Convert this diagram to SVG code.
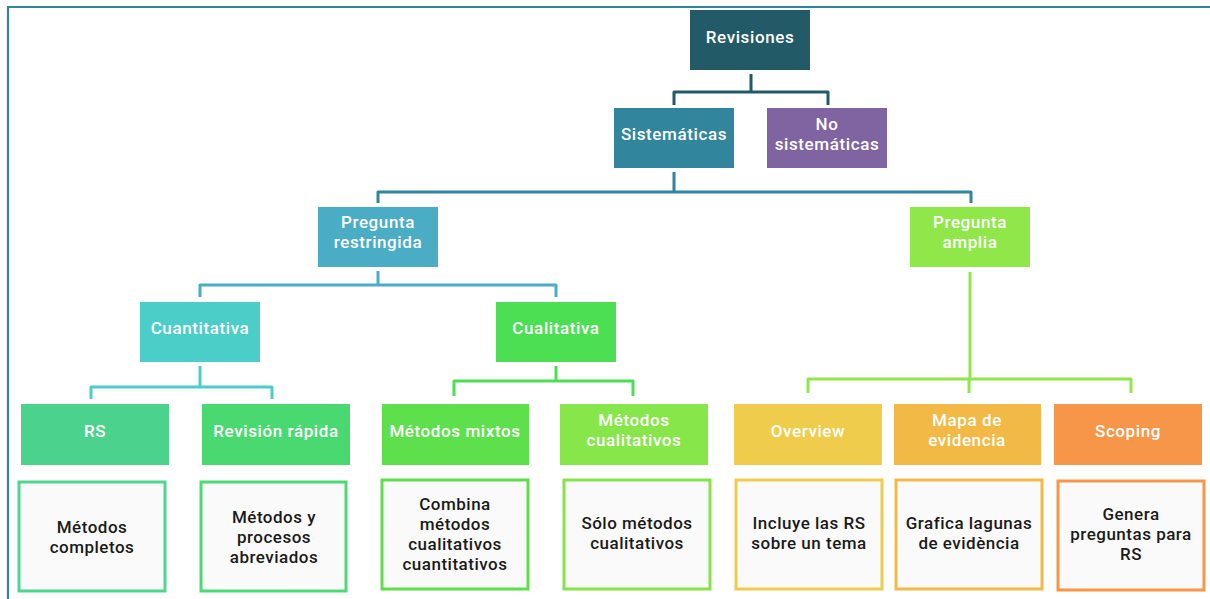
<svg xmlns="http://www.w3.org/2000/svg" width="1210" height="599" viewBox="0 0 1210 599">
<style>
.h{font-family:Roboto,"Liberation Sans",sans-serif;font-size:17px;font-weight:500;letter-spacing:0.6px;fill:#ffffff;text-anchor:middle}
.d{font-family:Roboto,"Liberation Sans",sans-serif;font-size:17px;font-weight:500;letter-spacing:0.5px;fill:#1a1a1a;text-anchor:middle}
.c{fill:none;stroke-width:3;stroke-linejoin:round}
.box{fill:#fafafa;stroke-width:3}
</style>
<rect x="0" y="0" width="1210" height="599" fill="#ffffff"/>
<path d="M8,599 V7 H1210" fill="none" stroke="#31859C" stroke-width="2.2"/>
<g id="connectors">
<path class="c" stroke="#235A67" d="M751,74 V92 M674,105 V92 H828 V105"/>
<path class="c" stroke="#31859C" d="M674,172 V192 M378,203 V192 H971 V203"/>
<path class="c" stroke="#4BACC6" d="M378,271 V285 M200,297 V285 H556 V297"/>
<path class="c" stroke="#4BCDC8" d="M200,366 V387 M91,399 V387 H272 V399"/>
<path class="c" stroke="#4CDF54" d="M556,366 V381 M454,396 V381 H633 V396"/>
<path class="c" stroke="#8FE74A" d="M970,272 V379 M808,393 V379 H1131 V393 M969,379 V393"/>
</g>
<g id="revisiones"><rect x="690" y="10" width="120" height="60" fill="#235A67"/><text class="h" x="750" y="43">Revisiones</text></g>
<g id="sistematicas"><rect x="614" y="108" width="120" height="60" fill="#31859C"/><text class="h" x="674" y="140">Sistemáticas</text></g>
<g id="no-sistematicas"><rect x="767" y="108" width="120" height="60" fill="#8064A2"/><text class="h" x="827" y="130">No</text><text class="h" x="827" y="150">sistemáticas</text></g>
<g id="pregunta-restringida"><rect x="318" y="207" width="120" height="60" fill="#4BACC6"/><text class="h" x="378" y="228">Pregunta</text><text class="h" x="378" y="248">restringida</text></g>
<g id="pregunta-amplia"><rect x="910" y="207" width="120" height="60" fill="#8FE74A"/><text class="h" x="970" y="228">Pregunta</text><text class="h" x="970" y="248">amplia</text></g>
<g id="cuantitativa"><rect x="140" y="302" width="120" height="60" fill="#4BCDC8"/><text class="h" x="200" y="334">Cuantitativa</text></g>
<g id="cualitativa"><rect x="496" y="302" width="120" height="60" fill="#4CDF54"/><text class="h" x="556" y="334">Cualitativa</text></g>
<g id="rs"><rect x="21" y="404" width="148" height="61" fill="#4BD38E"/><text class="h" x="95" y="437">RS</text></g>
<g id="revision-rapida"><rect x="202" y="404" width="148" height="61" fill="#4AD971"/><text class="h" x="276" y="437">Revisión rápida</text></g>
<g id="metodos-mixtos"><rect x="382" y="404" width="147" height="61" fill="#5EE04C"/><text class="h" x="455" y="437">Métodos mixtos</text></g>
<g id="metodos-cualitativos"><rect x="560" y="404" width="148" height="61" fill="#86E64A"/><text class="h" x="634" y="426">Métodos</text><text class="h" x="634" y="446">cualitativos</text></g>
<g id="overview"><rect x="734" y="404" width="148" height="61" fill="#EFCC4B"/><text class="h" x="808" y="437">Overview</text></g>
<g id="mapa-evidencia"><rect x="894" y="404" width="147" height="61" fill="#F3B946"/><text class="h" x="967" y="426">Mapa de</text><text class="h" x="967" y="446">evidencia</text></g>
<g id="scoping"><rect x="1054" y="404" width="148" height="61" fill="#F79548"/><text class="h" x="1128" y="437">Scoping</text></g>
<g id="desc-rs"><rect class="box" x="19" y="482" width="146" height="109" stroke="#4ED58F"/><text class="d" x="92" y="533">Métodos</text><text class="d" x="92" y="553">completos</text></g>
<g id="desc-revision"><rect class="box" x="201" y="482" width="145" height="109" stroke="#4DDA74"/><text class="d" x="274" y="523">Métodos y</text><text class="d" x="274" y="543">procesos</text><text class="d" x="274" y="563">abreviados</text></g>
<g id="desc-mixtos"><rect class="box" x="382" y="480" width="146" height="109" stroke="#5EE04C"/><text class="d" x="455" y="510">Combina</text><text class="d" x="455" y="530">métodos</text><text class="d" x="455" y="550">cualitativos</text><text class="d" x="455" y="570">cuantitativos</text></g>
<g id="desc-cualitativos"><rect class="box" x="564" y="480" width="146" height="109" stroke="#86E44A"/><text class="d" x="637" y="529">Sólo métodos</text><text class="d" x="637" y="549">cualitativos</text></g>
<g id="desc-overview"><rect class="box" x="736" y="480" width="146" height="109" stroke="#EFCC4B"/><text class="d" x="809" y="529">Incluye las  RS</text><text class="d" x="809" y="549">sobre un tema</text></g>
<g id="desc-mapa"><rect class="box" x="896" y="480" width="146" height="109" stroke="#F3B946"/><text class="d" x="969" y="529">Grafica lagunas</text><text class="d" x="969" y="549">de evidència</text></g>
<g id="desc-scoping"><rect class="box" x="1058" y="481" width="146" height="109" stroke="#F79548"/><text class="d" x="1131" y="520">Genera</text><text class="d" x="1131" y="540">preguntas  para</text><text class="d" x="1131" y="560">RS</text></g>
</svg>
